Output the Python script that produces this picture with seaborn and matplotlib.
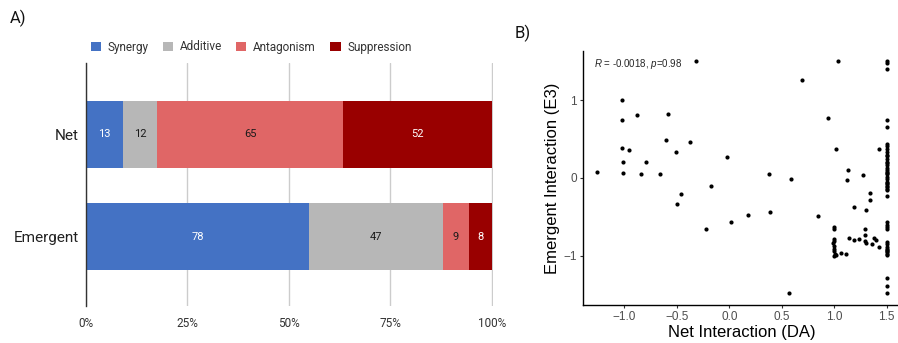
import numpy as np
import pandas as pd
import matplotlib
matplotlib.use("Agg")
import matplotlib.pyplot as plt
import seaborn as sns
from matplotlib.patches import Patch

# ---------------- data ----------------
groups = ["Net", "Emergent"]
interaction_types = ["Synergy", "Additive", "Antagonism", "Suppression"]
synergy = [13, 78]
additive = [12, 47]
antagonism = [65, 9]
suppression = [52, 8]
type_colors = ["#4472C4", "#B7B7B7", "#E06666", "#990000"]
label_colors = ["white", "#1a1a1a", "#1a1a1a", "white"]
pct_ticks = [0, 25, 50, 75, 100]
pct_labels = ["0%", "25%", "50%", "75%", "100%"]

net_da = [
    -1.257, -1.02, -1.02, -0.88, -1.02, -0.955, -1.016, -1.016, -0.79, -0.845,
    -0.66, -0.58, -0.60, -0.51, -0.37, -0.32, -0.457, -0.50, -0.17, -0.225,
    -0.02, 0.02, 0.18, 0.38, 0.39, 0.59, 0.57, 0.695, 0.85, 0.94,
    1.02, 1.04, 1.13, 1.12, 1.28, 1.34, 1.34, 1.19, 1.30, 1.43,
    0.995, 1.00, 1.00, 1.00, 0.99, 1.00, 0.995, 1.00, 1.01, 0.995, 1.02,
    1.07, 1.11, 1.14, 1.19, 1.24, 1.29, 1.29, 1.29, 1.30, 1.36, 1.385, 1.40, 1.43,
    1.5, 1.5, 1.5, 1.5, 1.5, 1.5, 1.5, 1.5, 1.5, 1.5,
    1.5, 1.5, 1.5, 1.5, 1.5, 1.5, 1.5, 1.5, 1.5, 1.5,
    1.5, 1.5, 1.5, 1.5, 1.5, 1.5, 1.5, 1.5, 1.5, 1.5,
    1.5, 1.5, 1.5, 1.5, 1.5, 1.5, 1.5, 1.5, 1.5, 1.5,
    1.5, 1.5, 1.5, 1.5, 1.5, 1.5,
]
emergent_e3 = [
    0.08, 1.00, 0.74, 0.81, 0.38, 0.365, 0.20, 0.067, 0.21, 0.05,
    0.045, 0.82, 0.49, 0.34, 0.46, 1.50, -0.21, -0.33, -0.10, -0.66,
    0.27, -0.56, -0.48, 0.045, -0.43, -0.015, -1.48, 1.26, -0.49, 0.77,
    0.37, 1.50, 0.10, -0.02, 0.04, -0.19, -0.28, -0.37, -0.41, 0.37,
    -0.63, -0.65, -0.78, -0.81, -0.84, -0.87, -0.905, -0.935, -0.97, -0.995, -0.99,
    -0.96, -0.98, -0.77, -0.79, -0.78, -0.66, -0.73, -0.81, -0.84, -0.85, -0.77, -0.80, -0.89,
    1.50, 1.47, 1.40, 0.75, 0.66, 0.44, 0.41, 0.37, 0.34, 0.30,
    0.25, 0.21, 0.17, 0.13, 0.10, 0.075, 0.045, 0.015, -0.015, -0.045,
    -0.075, -0.105, -0.14, -0.16, -0.23, -0.57, -0.60, -0.63, -0.65, -0.82,
    -0.85, -0.88, -0.91, -0.93, -0.95, -0.97, -0.99, -1.28, -1.38, -1.48,
    -0.94, 0.19, 0.28, 0.06, -0.06, -0.12,
]
corr_text = "$R$ = -0.0018, $p$=0.98"

# ---------------- style ----------------
sns.set_style("white")
plt.rcParams["font.family"] = ["Roboto", "DejaVu Sans"]
plt.rcParams["mathtext.fontset"] = "custom"
plt.rcParams["mathtext.it"] = "Liberation Sans:italic"
plt.rcParams["mathtext.rm"] = "Liberation Sans"

W, H = 898, 343
fig = plt.figure(figsize=(W / 100, H / 100), dpi=100)

# ---------------- panel A: stacked percentage bars ----------------
counts = pd.DataFrame({"group": groups, "Synergy": synergy, "Additive": additive,
                       "Antagonism": antagonism, "Suppression": suppression})
totals = counts[interaction_types].sum(axis=1)
pct = counts[interaction_types].div(totals, axis=0) * 100
cum = pct.cumsum(axis=1)

axA = fig.add_axes([86 / W, 1 - 306 / H, (493 - 86) / W, (306 - 63) / H])
# draw cumulative extents from the longest to the shortest so each segment shows
for t, col in reversed(list(zip(interaction_types, type_colors))):
    df = pd.DataFrame({"group": groups, "end": cum[t].values})
    sns.barplot(data=df, x="end", y="group", order=groups, orient="h",
                color=col, saturation=1, width=0.66, linewidth=0,
                errorbar=None, ax=axA, zorder=3)

for i, g in enumerate(groups):
    start = 0.0
    for j, t in enumerate(interaction_types):
        w = pct.loc[i, t]
        axA.text(start + w / 2, i, str(counts.loc[i, t]), ha="center", va="center",
                 fontsize=8, color=label_colors[j], zorder=5)
        start += w

axA.set_xlim(0, 100.3)
axA.set_ylim(1.68, -0.70)
axA.set_xticks(pct_ticks)
axA.set_xticklabels(pct_labels)
axA.xaxis.grid(True, color="#cccccc", linewidth=1, zorder=0)
axA.set_axisbelow(True)
for s in ["top", "right", "bottom"]:
    axA.spines[s].set_visible(False)
axA.spines["left"].set_color("#333333")
axA.spines["left"].set_linewidth(1)
axA.spines["left"].set_zorder(4)
axA.tick_params(axis="x", length=0, pad=8, labelsize=8.5, labelcolor="#333333")
axA.tick_params(axis="y", length=0, pad=5, labelsize=11, labelcolor="#222222")
axA.set_xlabel("")
axA.set_ylabel("")

handles = [Patch(facecolor=c, edgecolor="none") for c in type_colors]
fig.legend(handles, interaction_types, loc="center left", bbox_to_anchor=(80 / W, 1 - 47 / H),
           ncol=4, frameon=False, fontsize=8.5, handlelength=0.85, handleheight=0.85,
           handletextpad=0.55, columnspacing=1.25, labelcolor="#333333")

fig.text(10 / W, 1 - 18 / H, "A)", fontsize=12, va="center", ha="left", color="#111111")

# ---------------- panel B: scatter ----------------
axB = fig.add_axes([583 / W, 1 - 305 / H, (901 - 583) / W, (305 - 51) / H])
sns.scatterplot(x=net_da, y=emergent_e3, s=9, color="black", linewidth=0, ax=axB)
axB.set_xlim(-1.395, 1.638)
axB.set_ylim(-1.63, 1.63)
axB.set_xticks([-1.0, -0.5, 0.0, 0.5, 1.0, 1.5])
axB.set_xticklabels(["\u22121.0", "\u22120.5", "0.0", "0.5", "1.0", "1.5"])
axB.set_yticks([-1, 0, 1])
axB.set_yticklabels(["\u22121", "0", "1"])
for s in ["top", "right"]:
    axB.spines[s].set_visible(False)
for s in ["left", "bottom"]:
    axB.spines[s].set_color("black")
    axB.spines[s].set_linewidth(1.0)
axB.tick_params(axis="both", direction="out", length=2.5, width=0.8, color="#333333",
                pad=2, labelsize=8.5, labelcolor="#4D4D4D", bottom=True, left=True)
for lab in axB.get_xticklabels() + axB.get_yticklabels():
    lab.set_fontfamily(["Liberation Sans", "DejaVu Sans"])
axB.set_xlabel("Net Interaction (DA)", fontsize=12, family=["Liberation Sans", "DejaVu Sans"],
               labelpad=1, color="black")
axB.set_ylabel("Emergent Interaction (E3)", fontsize=12, family=["Liberation Sans", "DejaVu Sans"],
               labelpad=2, color="black")
fig.text(594 / W, 1 - 64 / H, corr_text, fontsize=7, ha="left", va="center",
         family=["Liberation Sans", "DejaVu Sans"])

fig.text(515 / W, 1 - 33 / H, "B)", fontsize=12, va="center", ha="left", color="#111111")

fig.savefig("out.png", dpi=100)
